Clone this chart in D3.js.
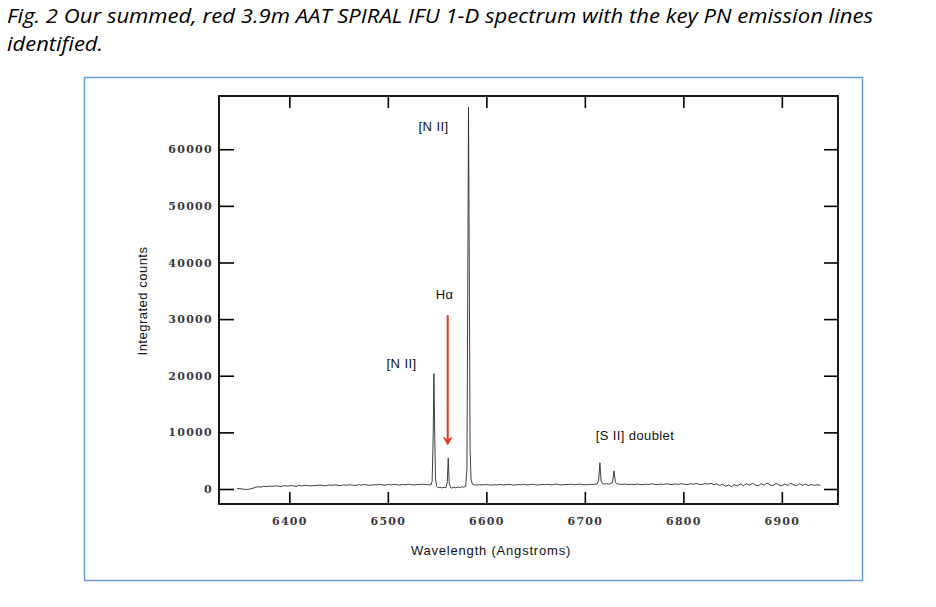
<!DOCTYPE html>
<html>
<head>
<meta charset="utf-8">
<script src="https://cdn.jsdelivr.net/npm/d3@7"></script>
<style>
  body { margin: 0; background: #fff; }
  svg { display: block; }
</style>
</head>
<body>
<svg id="fig" width="936" height="607"></svg>
<script>
var captionLines = [
  'Fig. 2 Our summed, red 3.9m AAT SPIRAL IFU 1-D spectrum with the key PN emission lines',
  'identified.'
];
var xTicks = [6400, 6500, 6600, 6700, 6800, 6900];
var yTicks = [0, 10000, 20000, 30000, 40000, 50000, 60000];
var xTitle = 'Wavelength (Angstroms)';
var yTitle = 'Integrated counts';

// [wavelength (A), integrated counts]
var spectrum = [
  [6347,120],[6350,60],[6353,-20],[6356,-90],[6359,-40],[6362,90],[6365,250],[6368,390],
  [6371,330],[6374,470],[6377,420],[6380,510],[6383,470],[6386,560],[6389,490],[6392,440],
  [6395,590],[6398,520],[6401,600],[6404,560],[6407,470],[6410,630],[6413,550],[6416,660],
  [6419,600],[6422,530],[6425,640],[6428,610],[6431,710],[6434,620],[6437,570],[6440,700],
  [6443,640],[6446,720],[6449,650],[6452,600],[6455,730],[6458,660],[6461,750],[6464,700],
  [6467,610],[6470,740],[6473,690],[6476,780],[6479,710],[6482,650],[6485,760],[6488,720],
  [6491,800],[6494,730],[6497,670],[6500,790],[6503,730],[6506,820],[6509,760],[6512,690],
  [6515,800],[6518,750],[6521,840],[6524,770],[6527,710],[6530,820],[6533,760],[6536,850],
  [6539,780],[6542,730],
  [6544,760],[6545,1400],[6546,9000],[6546.8,20400],[6547.6,9500],[6548.4,1800],[6549.5,500],
  [6551,230],[6553,310],[6555,180],[6557,290],[6559,240],
  [6560.3,1200],[6561.3,5450],[6562.3,1100],[6563.5,260],
  [6565,170],[6567,300],[6569,210],[6571,330],[6573,260],[6575,380],[6577,320],[6579,450],
  [6580.3,3500],[6581,30000],[6581.9,67400],[6582.7,38000],[6583.5,7000],[6584.5,1600],
  [6586,850],[6588,720],
  [6590,690],[6593,760],[6596,710],[6599,800],[6602,740],[6605,680],[6608,770],[6611,720],
  [6614,810],[6617,700],[6620,760],[6623,830],[6626,730],[6629,690],[6632,780],[6635,740],
  [6638,820],[6641,710],[6644,770],[6647,850],[6650,750],[6653,700],[6656,800],[6659,760],
  [6662,840],[6665,730],[6668,790],[6671,860],[6674,760],[6677,720],[6680,810],[6683,770],
  [6686,850],[6689,740],[6692,800],[6695,870],[6698,770],[6701,730],[6704,820],[6707,780],
  [6710,850],[6712.5,900],
  [6714,1500],[6715.3,4650],[6716.5,1400],[6718,950],[6720,880],[6722,940],[6724,870],
  [6726,960],[6728,1100],[6729.6,3200],[6731,1150],[6733,900],[6735,850],
  [6738,800],[6741,870],[6744,780],[6747,840],[6750,760],[6753,890],[6756,810],[6759,750],
  [6762,860],[6765,790],[6768,900],[6771,820],[6774,760],[6777,880],[6780,800],[6783,920],
  [6786,830],[6789,770],[6792,900],[6795,810],[6798,940],[6801,850],[6804,780],[6807,930],
  [6810,840],[6813,960],[6816,860],[6819,790],[6822,950],[6825,870],[6828,1000],[6831,760],
  [6834,900],[6837,620],[6840,840],[6843,480],[6846,700],[6849,420],[6852,760],[6855,560],
  [6858,880],[6861,600],[6864,930],[6867,650],[6870,1000],[6873,700],[6876,560],[6879,950],
  [6882,680],[6885,1050],[6888,720],[6891,600],[6894,980],[6897,700],[6900,560],[6903,900],
  [6906,640],[6909,1000],[6912,720],[6915,580],[6918,940],[6921,660],[6924,860],[6927,600],
  [6930,800],[6933,620],[6936,760],[6939,650]
];

// labels anchored at (wavelength, counts) of their baseline centre
var lineLabels = [
  {text: '[N II]', wave: 6546.4, counts: 63300},
  {text: 'H\u03b1', wave: 6557.6, counts: 33500},
  {text: '[N II]', wave: 6513.9, counts: 21300},
  {text: '[S II] doublet', wave: 6750.9, counts: 8600}
];
var arrowWave = 6560.8, arrowFrom = 30700, arrowTo = 7700;

var
  svg = d3.select('#fig'),
  frame = {left: 219, right: 838, top: 96, bottom: 504},
  xScale = d3.scaleLinear().domain([6328.6, 6957]).range([frame.left, frame.right]),
  yScale = d3.scaleLinear().domain([-2650, 69400]).range([frame.bottom, frame.top])
  ;

svg.append('rect')
  .attr('width', 936).attr('height', 607).attr('fill', '#fff');

// caption
svg.selectAll('text.caption')
  .data(captionLines)
  .enter().append('text')
  .attr('class', 'caption')
  .attr('x', 7)
  .attr('y', function(d, i){ return 23 + i * 28; })
  .attr('textLength', function(d, i){ return i === 0 ? 866 : 96; })
  .attr('lengthAdjust', 'spacingAndGlyphs')
  .style('font-family', '"Open Sans", "Noto Sans", sans-serif')
  .style('font-style', 'italic')
  .style('font-size', '20.5px')
  .style('fill', '#000')
  .text(function(d){ return d; });

// blue box
svg.append('rect')
  .attr('x', 84.5).attr('y', 77.5)
  .attr('width', 778).attr('height', 503)
  .attr('fill', 'none')
  .attr('stroke', '#6a9fd6')
  .attr('stroke-width', 1.5);

function styleAxis(g){
  g.select('.domain').remove();
  g.selectAll('.tick line').attr('stroke', '#000').attr('stroke-width', 1.6);
  g.selectAll('.tick text')
    .attr('fill', '#3a3a3a')
    .style('font-family', '"DejaVu Serif", serif')
    .style('font-weight', 'bold')
    .style('font-size', '11px')
    .style('letter-spacing', '1.3px');
}

svg.append('g')
  .attr('transform', 'translate(0,' + frame.bottom + ')')
  .call(d3.axisBottom(xScale).tickValues(xTicks).tickSizeInner(-12).tickSizeOuter(0).tickPadding(13).tickFormat(d3.format('d')))
  .call(styleAxis);

svg.append('g')
  .attr('transform', 'translate(0,' + frame.top + ')')
  .call(d3.axisTop(xScale).tickValues(xTicks).tickSizeInner(-12).tickSizeOuter(0).tickFormat(''))
  .call(styleAxis);

svg.append('g')
  .attr('transform', 'translate(' + frame.left + ',0)')
  .call(d3.axisLeft(yScale).tickValues(yTicks).tickSizeInner(-15).tickSizeOuter(0).tickPadding(6).tickFormat(d3.format('d')))
  .call(styleAxis);

svg.append('g')
  .attr('transform', 'translate(' + frame.right + ',0)')
  .call(d3.axisRight(yScale).tickValues(yTicks).tickSizeInner(-14).tickSizeOuter(0).tickFormat(''))
  .call(styleAxis);

svg.append('rect')
  .attr('x', frame.left).attr('y', frame.top)
  .attr('width', frame.right - frame.left)
  .attr('height', frame.bottom - frame.top)
  .attr('fill', 'none')
  .attr('stroke', '#000')
  .attr('stroke-width', 1.8);

// spectrum
var line = d3.line()
  .x(function(d){ return xScale(d[0]); })
  .y(function(d){ return yScale(d[1]); });

svg.append('path')
  .datum(spectrum)
  .attr('d', line)
  .attr('fill', 'none')
  .attr('stroke', '#2a2a2a')
  .attr('stroke-width', 0.9)
  .attr('stroke-linejoin', 'round');

// axis titles
svg.append('text')
  .attr('x', 491)
  .attr('y', 555)
  .attr('text-anchor', 'middle')
  .style('font-family', '"Liberation Sans", Arial, sans-serif')
  .style('font-size', '13px')
  .style('letter-spacing', '0.8px')
  .style('fill', '#111')
  .text(xTitle);

svg.append('text')
  .attr('transform', 'translate(147,301) rotate(-90)')
  .attr('text-anchor', 'middle')
  .style('font-family', '"Liberation Sans", Arial, sans-serif')
  .style('font-size', '13px')
  .style('letter-spacing', '0.5px')
  .style('fill', '#111')
  .text(yTitle);

// line annotations
svg.selectAll('text.label')
  .data(lineLabels)
  .enter().append('text')
  .attr('class', 'label')
  .attr('x', function(d){ return xScale(d.wave); })
  .attr('y', function(d){ return yScale(d.counts); })
  .attr('text-anchor', 'middle')
  .style('font-family', '"Liberation Sans", Arial, sans-serif')
  .style('font-size', '13px')
  .style('letter-spacing', '0.4px')
  .style('fill', '#111')
  .text(function(d){ return d.text; });

// H-alpha arrow
var
  ax = xScale(arrowWave),
  ay0 = yScale(arrowFrom),
  ay1 = yScale(arrowTo)
  ;
svg.append('line')
  .attr('x1', ax).attr('x2', ax)
  .attr('y1', ay0).attr('y2', ay1 - 6)
  .attr('stroke', '#e8371f')
  .attr('stroke-width', 2);

svg.append('path')
  .attr('d', 'M' + (ax - 5) + ',' + (ay1 - 9) + 'L' + ax + ',' + (ay1 - 6) + 'L' + (ax + 5) + ',' + (ay1 - 9) + 'L' + ax + ',' + ay1 + 'Z')
  .attr('fill', '#e8371f');
</script>
</body>
</html>
